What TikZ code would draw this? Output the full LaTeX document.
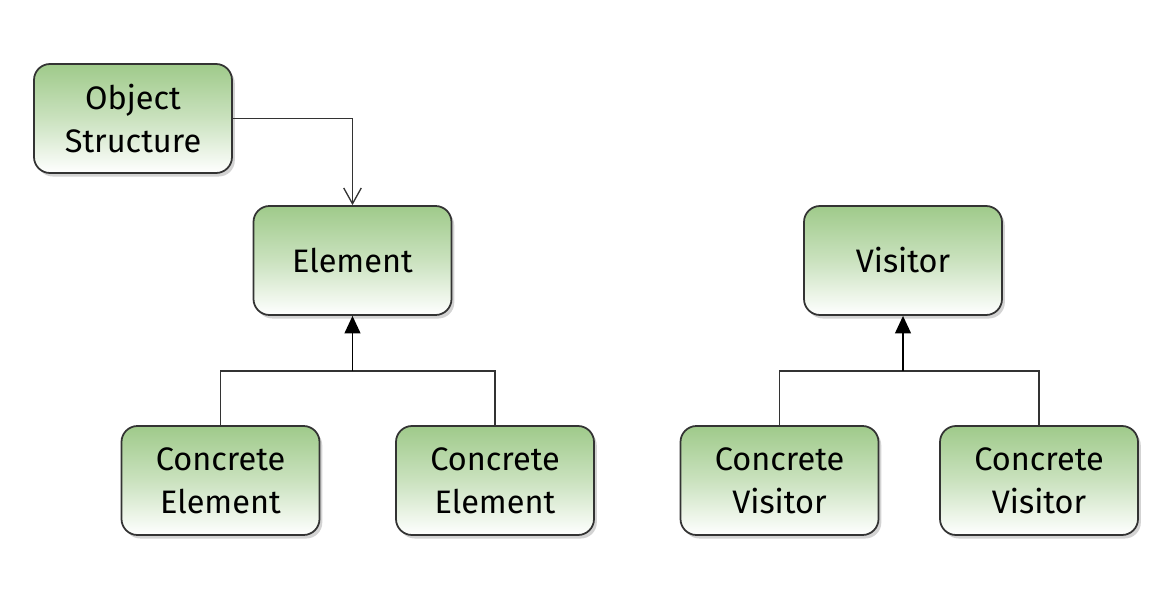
\documentclass[tikz,border=0pt]{standalone}
\usepackage{fontspec}
\setmainfont{Fira Sans}
\usetikzlibrary{arrows.meta,shadows}
\definecolor{boxgreen}{HTML}{9FCA8A}
\definecolor{boxline}{HTML}{333333}
\begin{document}
\begin{tikzpicture}[
    classbox/.style={draw=boxline, line width=1pt, rounded corners=0.32cm,
      minimum width=3.96cm, minimum height=2.18cm, align=center,
      top color=boxgreen, bottom color=white, middle color=white!45!boxgreen,
      drop shadow={shadow xshift=1.6pt, shadow yshift=-2pt, opacity=0.35},
      font=\fontsize{18.5}{24.5}\selectfont},
    link/.style={draw=boxline, line width=0.75pt},
    inherit/.style={draw=black, line width=1.1pt, -{Triangle[length=10pt, width=9pt]}}
  ]
  \useasboundingbox (0,0) rectangle (23.44,11.88);

  % element side
  \node[classbox] (obj)  at (2.66,9.51) {Object\\Structure};
  \node[classbox] (elem) at (7.05,6.67) {Element};
  \node[classbox] (ce1)  at (4.41,2.27) {Concrete\\Element};
  \node[classbox] (ce2)  at (9.90,2.27) {Concrete\\Element};

  % visitor side
  \node[classbox] (vis)  at (18.06,6.67) {Visitor};
  \node[classbox] (cv1)  at (15.59,2.27) {Concrete\\Visitor};
  \node[classbox] (cv2)  at (20.78,2.27) {Concrete\\Visitor};

  % junctions
  \coordinate (jE) at (7.05,4.46);
  \coordinate (jV) at (18.06,4.46);

  % association
  \draw[link, -{Straight Barb[length=9pt, width=10pt]}] (obj.east) -| (elem.north);

  % generalisations
  \draw[link] (ce1.north) |- (jE) -| (ce2.north);
  \draw[inherit] (jE) -- (elem.south);
  \draw[link] (cv1.north) |- (jV) -| (cv2.north);
  \draw[inherit] (jV) -- (vis.south);
\end{tikzpicture}
\end{document}
